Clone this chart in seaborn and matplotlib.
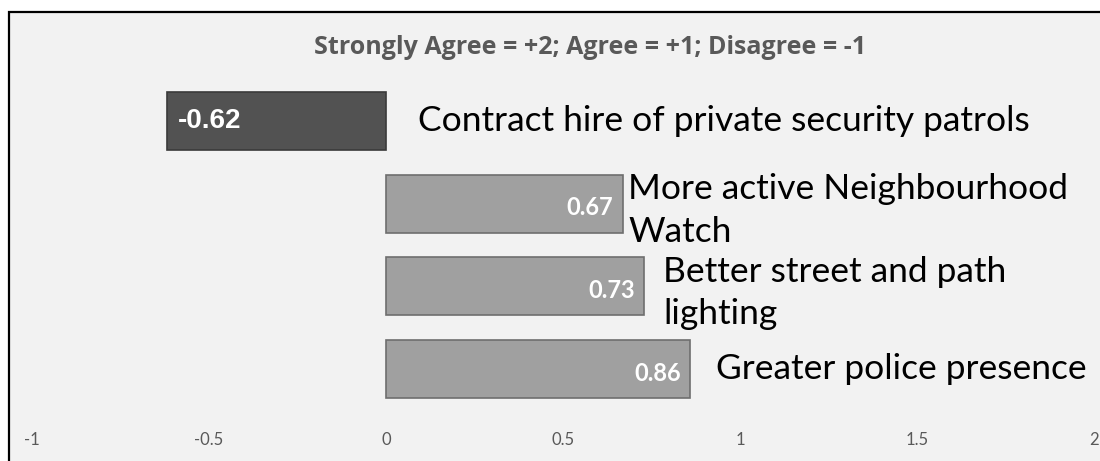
import numpy as np
import pandas as pd
import matplotlib.pyplot as plt
import seaborn as sns
from matplotlib.patches import Rectangle

# survey scores (Strongly Agree = +2; Agree = +1; Disagree = -1)
measures = ['Contract hire of private security patrols',
            'More active Neighbourhood Watch',
            'Better street and path lighting',
            'Greater police presence']
display_labels = ['Contract hire of private security patrols',
                  'More active Neighbourhood\nWatch',
                  'Better street and path\nlighting',
                  'Greater police presence']
scores = [-0.62, 0.67, 0.73, 0.86]
value_labels = ['-0.62', '0.67', '0.73', '0.86']
x_ticks = [-1, -0.5, 0, 0.5, 1, 1.5, 2]
x_ticklabels = ['-1', '-0.5', '0', '0.5', '1', '1.5', '2']

df = pd.DataFrame({'measure': measures, 'score': scores})

sns.set_style('white')
plt.rcParams['font.family'] = ['Lato', 'DejaVu Sans']

fig = plt.figure(figsize=(11, 4.61), dpi=100)
fig.patch.set_facecolor('white')

# chart frame like the Excel chart area
frame = Rectangle((9 / 1100, -0.02), 1.02, 1 - 12 / 461 + 0.02, transform=fig.transFigure,
                  facecolor='#f2f2f2', edgecolor='black', linewidth=1.6, zorder=-5)
fig.patches.append(frame)

ax = fig.add_axes([32 / 1100, 0.092, (1094 - 32) / 1100, 0.78])
ax.set_facecolor('none')

colors = ['#525252', '#a0a0a0', '#a0a0a0', '#a0a0a0']
edges = ['#3a3a3a', '#6e6e6e', '#6e6e6e', '#6e6e6e']
sns.barplot(data=df, x='score', y='measure', hue='measure', palette=colors,
            orient='h', width=0.7, legend=False, ax=ax, zorder=2)
for patch, ec in zip(ax.patches, edges):
    patch.set_edgecolor(ec)
    patch.set_linewidth(1.2)

ax.set_xlim(-1, 2)
ax.set_ylim(3.6, -0.75)
ax.set_xticks(x_ticks)
ax.set_xticklabels(x_ticklabels, color='#595959', fontsize=12)
ax.tick_params(axis='x', length=0, pad=10)
ax.set_yticks([])
ax.set_xlabel('')
ax.set_ylabel('')
for s in ax.spines.values():
    s.set_visible(False)

# category labels to the right of each bar
label_offsets = [32, 5, 19, 26]
label_dy = [0, -5, -5, 0]
for i, (v, lab) in enumerate(zip(scores, display_labels)):
    ax.annotate(lab, xy=(max(v, 0), i), xytext=(label_offsets[i] * 0.72, label_dy[i]),
                textcoords='offset points', ha='left', va='center',
                fontsize=25.5, color='black', linespacing=1.4)

# value labels inside the bars
for i, (v, txt) in enumerate(zip(scores, value_labels)):
    if v < 0:
        ax.annotate(txt, xy=(v, i), xytext=(8, 0), textcoords='offset points',
                    ha='left', va='center', fontsize=20, fontweight='bold',
                    color='white', fontfamily=['Liberation Sans', 'DejaVu Sans'])
    else:
        ax.annotate(txt, xy=(v, i), xytext=(-7, -3), textcoords='offset points',
                    ha='right', va='center', fontsize=17, fontweight='bold',
                    color='white')

fig.text(590 / 1100, 1 - 47 / 461, 'Strongly Agree = +2; Agree = +1; Disagree = -1',
         ha='center', va='center', fontsize=18, fontweight='bold', color='#595959',
         family=['Open Sans', 'DejaVu Sans'])

fig.savefig('out.png', dpi=100, facecolor=fig.get_facecolor())
